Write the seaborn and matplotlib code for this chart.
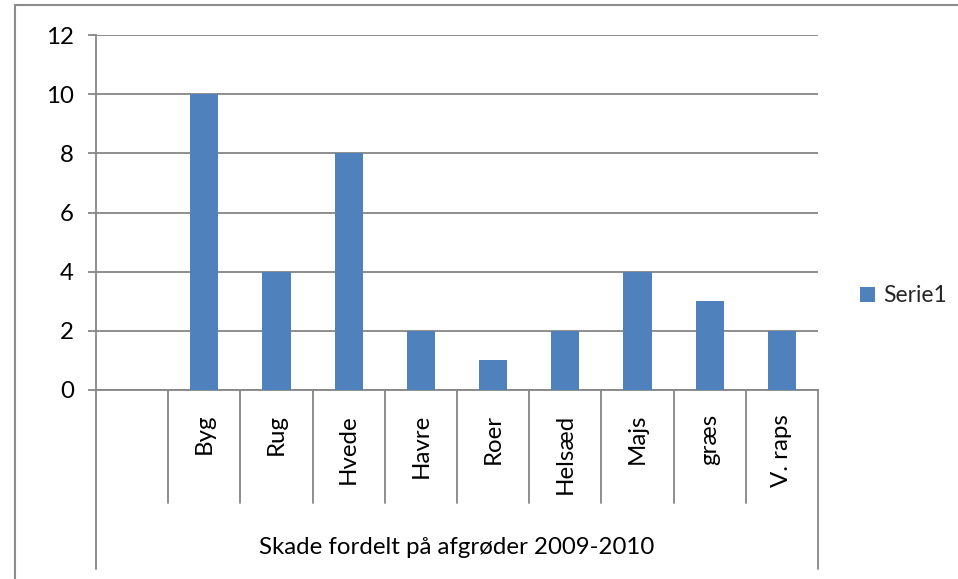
import matplotlib
matplotlib.use("Agg")
import matplotlib.pyplot as plt
from matplotlib.patches import Patch
from matplotlib.lines import Line2D
import matplotlib.transforms as mtransforms
import seaborn as sns
import pandas as pd

categories = ["", "Byg", "Rug", "Hvede", "Havre", "Roer", "Helsæd", "Majs", "græs", "V. raps"]
values = [0, 10, 4, 8, 2, 1, 2, 4, 3, 2]
series_name = "Serie1"
group_label = "Skade fordelt på afgrøder 2009-2010"
yticks = [0, 2, 4, 6, 8, 10, 12]

sns.set_theme(style="white")
plt.rcParams["font.family"] = ["Lato", "DejaVu Sans"]

W, H = 958, 579
fig = plt.figure(figsize=(W / 100, H / 100), dpi=100)
ax = fig.add_axes([96 / W, (H - 390) / H, 722 / W, 355 / H])

df = pd.DataFrame({"cat": categories, "val": values})
bar_color = "#4F81BD"
grid_color = "#868686"
fs = 17.3

sns.barplot(data=df, x="cat", y="val", order=categories, color=bar_color,
            width=0.39, saturation=1, linewidth=0, ax=ax, zorder=3)
ax.set_xlim(-0.5, len(categories) - 0.5)
ax.set_ylim(0, 12)
ax.set_yticks(yticks)
ax.set_yticklabels([str(v) for v in yticks], fontsize=fs, color="black")
ax.set_xticks([])
ax.set_xlabel("")
ax.set_ylabel("")
ax.yaxis.grid(True, color=grid_color, linewidth=1.3, zorder=0)
ax.set_axisbelow(True)
for s in ["top", "right"]:
    ax.spines[s].set_visible(False)
for s in ["left", "bottom"]:
    ax.spines[s].set_color(grid_color)
    ax.spines[s].set_linewidth(1.3)
ax.tick_params(axis="y", length=6, width=1.3, color=grid_color, pad=10, direction="out", left=True)

trans = mtransforms.blended_transform_factory(ax.transData, ax.transAxes)
sep_bottom = (390 - 503) / 355
outer_bottom = (390 - 569) / 355
for i in range(1, len(categories)):
    ax.add_line(Line2D([i - 0.5, i - 0.5], [0, sep_bottom], transform=trans, color=grid_color,
                       linewidth=1.3, clip_on=False))
for xb in [-0.5, len(categories) - 0.5]:
    ax.add_line(Line2D([xb, xb], [0, outer_bottom], transform=trans, color=grid_color,
                       linewidth=1.3, clip_on=False))
label_top = (390 - 414) / 355
for i, c in enumerate(categories):
    if c:
        ax.text(i, label_top, c, rotation=90, ha="center", va="top", transform=trans,
                fontsize=fs, color="black")
ax.text((len(categories) - 1) / 2, (390 - 547) / 355, group_label, ha="center", va="center",
        transform=trans, fontsize=fs, color="black")

# outer chart border
fig.add_artist(Line2D([15 / W, 15 / W], [0, 1 - 5 / H], transform=fig.transFigure,
                      color="#8c8c8c", linewidth=1.5))
fig.add_artist(Line2D([15 / W, 1], [1 - 5 / H, 1 - 5 / H], transform=fig.transFigure,
                      color="#8c8c8c", linewidth=1.5))

fig.legend(handles=[Patch(facecolor=bar_color, edgecolor="none", label=series_name)],
           loc="center left", bbox_to_anchor=(860 / W, 1 - 296 / H), frameon=False,
           borderpad=0, borderaxespad=0,
           fontsize=16.5, handlelength=0.65, handleheight=0.65, handletextpad=0.35)

fig.savefig("out.png", dpi=100, facecolor="white")
